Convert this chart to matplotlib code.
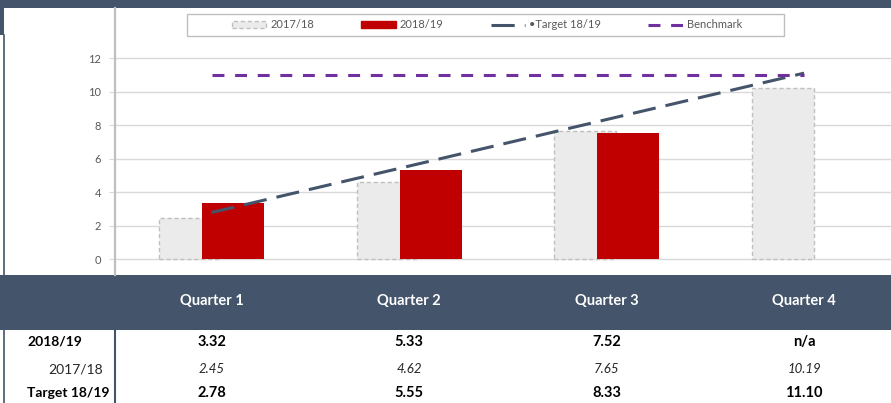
import matplotlib
matplotlib.use("Agg")
import matplotlib.pyplot as plt
import matplotlib.transforms as mtransforms
from matplotlib.patches import Rectangle, Patch
from matplotlib.lines import Line2D
import numpy as np

plt.rcParams['font.family'] = ['Lato', 'DejaVu Sans']

# data
quarters = ["Quarter 1", "Quarter 2", "Quarter 3", "Quarter 4"]
s1718 = [2.45, 4.62, 7.65, 10.19]
s1819 = [3.32, 5.33, 7.52, np.nan]
target = [2.78, 5.55, 8.33, 11.10]
benchmark = [11, 11, 11, 11]
yticks = [0, 2, 4, 6, 8, 10, 12]

slate = "#44546A"
red = "#C00000"
purple = "#7030A0"
W, H = 891, 403

fig = plt.figure(figsize=(W / 100, H / 100), dpi=100)

# background axes in pixel coords (y down)
bg = fig.add_axes([0, 0, 1, 1], zorder=0)
bg.set_xlim(0, W)
bg.set_ylim(H, 0)
bg.axis("off")

def px_axes(x0, y0, x1, y1, **kw):
    return fig.add_axes([x0 / W, 1 - y1 / H, (x1 - x0) / W, (y1 - y0) / H], **kw)

# top band + left edge
bg.add_patch(Rectangle((0, 0), W, 8, color=slate, lw=0))
bg.add_patch(Rectangle((0, 0), 4, 35, color=slate, lw=0))
bg.plot([3.8, 3.8], [35, H], color=slate, lw=1.2)

# chart
ax = px_axes(115, 8, W, 275, zorder=1)
ax.patch.set_alpha(0)
x = np.arange(len(quarters))
ax.set_xlim(-0.489, 3.44)
ax.set_ylim(-0.955, 14.99)

ax.bar(x - 0.109, s1718, width=0.314, color="#EBEBEB", edgecolor="#BFBFBF",
       linestyle=(0, (3, 2)), lw=1, zorder=2)
ax.bar(x + 0.109, s1819, width=0.314, color=red, zorder=3)
ax.plot(x, target, color=slate, lw=2.2, dashes=(7.6, 3.3), zorder=4)
ax.plot(x, benchmark, color=purple, lw=2.2, dashes=(3.9, 3.5), zorder=4)

ax.set_yticks(yticks)
ax.set_xticks([])
ax.tick_params(axis="y", length=4, color="#D9D9D9", labelsize=8, labelcolor="#595959", pad=6)
ax.grid(axis="y", color="#D9D9D9", lw=1, zorder=0)
ax.set_axisbelow(True)
for s in ["top", "right", "bottom"]:
    ax.spines[s].set_visible(False)
ax.spines["left"].set_color("#BFBFBF")
ax.spines["left"].set_linewidth(1.6)

# legend
bg.add_patch(Rectangle((187, 14), 597, 22, fill=False, edgecolor="#BFBFBF", lw=1))
handles = [
    Patch(facecolor="#EBEBEB", edgecolor="#BFBFBF", linestyle=(0, (3, 2)), lw=1),
    Patch(facecolor=red, edgecolor=red),
    Line2D([], [], color=slate, lw=2.2, dashes=(7.6, 3.3)),
    Line2D([], [], color=purple, lw=2.2, dashes=(3.9, 3.5)),
]
labels = ["2017/18", "2018/19", "\u2022Target 18/19", "Benchmark"]
leg = ax.legend(handles, labels, ncol=4, loc="center", frameon=False,
                bbox_to_anchor=(487, 25), bbox_transform=bg.transData,
                fontsize=8, handlelength=3.1, handleheight=0.6, handletextpad=0.4,
                columnspacing=4.2, labelcolor="#595959")

# table
bg.add_patch(Rectangle((0, 275), W, 55, color=slate, lw=0))
bg.plot([114.7, 114.7], [330, H], color=slate, lw=1.5)
tr = mtransforms.blended_transform_factory(ax.transData, bg.transData)
for i, q in enumerate(quarters):
    ax.text(i, 301, q, transform=tr, ha="center", va="center", color="white",
            fontsize=10.5, fontweight="bold")
    v = s1819[i]
    ax.text(i, 342, "n/a" if np.isnan(v) else f"{v:.2f}", transform=tr,
            ha="center", va="center", fontsize=10.5, fontweight="bold", color="black")
    ax.text(i, 369, f"{s1718[i]:.2f}", transform=tr, ha="center", va="center",
            fontsize=9.5, fontstyle="italic", color="#262626")
    ax.text(i, 393, f"{target[i]:.2f}", transform=tr, ha="center", va="center",
            fontsize=10.5, fontweight="bold", color="black")

bg.text(27, 342, "2018/19", ha="left", va="center", fontsize=10, fontweight="bold")
bg.text(48, 369, "2017/18", ha="left", va="center", fontsize=10, color="#262626")
bg.text(27, 393, "Target 18/19", ha="left", va="center", fontsize=10, fontweight="bold")

fig.savefig("out.png", dpi=100)
